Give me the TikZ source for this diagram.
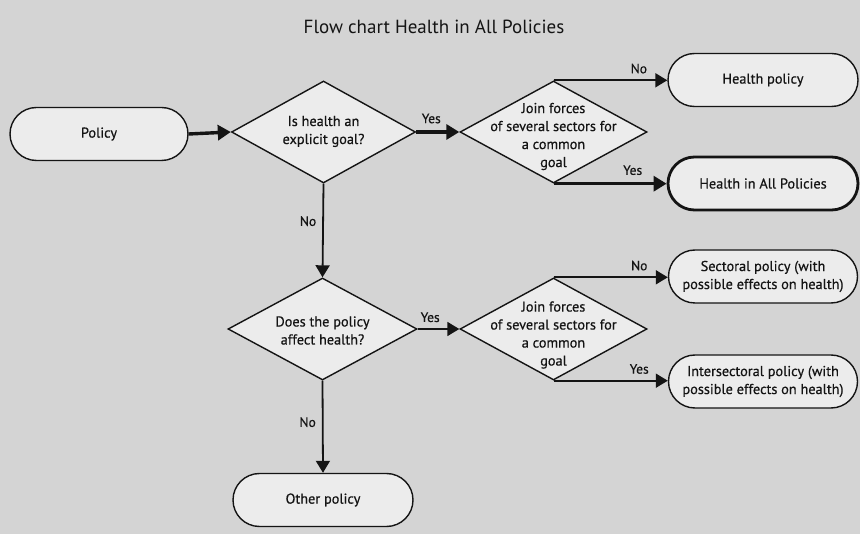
\documentclass[tikz,border=0pt]{standalone}
\usepackage{fontspec}
\setmainfont{PT Sans}
\newfontfamily\hfont[FakeBold=0.5]{PT Sans}
\usetikzlibrary{arrows.meta,shapes.geometric}
\definecolor{bg}{HTML}{D4D4D4}
\definecolor{boxfill}{HTML}{ECECEC}
\definecolor{ink}{HTML}{141414}
\tikzset{
  term/.style={draw=ink, line width=1.4pt, fill=boxfill, rounded corners=26.5pt,
    minimum width=#1, minimum height=53pt, inner sep=0pt, align=center,
    font=\hfont\fontsize{14.3}{18}\selectfont, text=ink},
  term/.default=180pt,
  dia/.style={draw=ink, line width=1.4pt, fill=boxfill, diamond, aspect=1.8,
    minimum width=184pt, minimum height=102pt, inner sep=0pt},
  diatext/.style={align=center, font=\hfont\fontsize{14.3}{18}\selectfont, text=ink, inner sep=0pt},
  lbl/.style={font=\hfont\fontsize{13.5}{16}\selectfont, text=ink, inner sep=0pt},
  arr/.style={draw=ink, line width=1.8pt, -{Triangle[length=12pt,width=14pt]}},
  tarr/.style={draw=ink, line width=3.4pt, -{Triangle[length=13pt,width=15pt]}},
}
\begin{document}
\begin{tikzpicture}[x=1pt,y=-1pt]
\fill[bg] (0,0) rectangle (860,534);
\useasboundingbox (0,0) rectangle (860,534);
\node[font=\fontsize{19}{22}\selectfont, text=ink] (title) at (434,27) {Flow chart Health in All Policies};
% nodes
\node[term=178pt] (policy) at (99,134) {Policy};
\node[dia] (d1) at (323.5,132) {};
\node[diatext] (t1) at (323.5,131.5) {Is health an\\explicit goal?};
\node[dia, minimum width=187pt] (d2) at (553.5,132) {};
\node[diatext] (t2) at (553.5,136.5) {Join forces\\of several sectors for\\a common\\goal};
\node[term=190pt] (hp) at (763,80) {Health policy};
\node[term=190pt, line width=2.8pt] (hiap) at (763,183.5) {Health in All Policies};
\node[dia, minimum width=189pt] (d3) at (322.5,329) {};
\node[diatext] (t3) at (322.5,330.5) {Does the policy\\affect health?};
\node[dia, minimum width=187pt] (d4) at (553.5,329) {};
\node[diatext] (t4) at (553.5,335) {Join forces\\of several sectors for\\a common\\goal};
\node[term=189pt] (sect) at (763,276.5) {Sectoral policy (with\\possible effects on health)};
\node[term=189pt] (inter) at (763,381.5) {Intersectoral policy (with\\possible effects on health)};
\node[term=180pt] (other) at (323,500) {Other policy};
% connectors
\draw[tarr] (policy.east) -- (d1.west);
\draw[tarr] (d1.east) -- (d2.west) node[lbl, pos=0.35, above=7pt] (y1) {Yes};
\draw[arr] (d2.north) -- (d2.north -| hp.west) node[lbl, pos=0.75, above=6pt] (n1) {No};
\draw[tarr] (d2.south) -- (d2.south -| hiap.west) node[lbl, pos=0.7, above=7pt] (y2) {Yes};
\draw[arr] (d1.south) -- (d3.north) node[lbl, pos=0.4, left=6pt] (n2) {No};
\draw[arr] (d3.east) -- (d4.west) node[lbl, pos=0.3, above=6pt] (y3) {Yes};
\draw[arr] (d4.north) -- (d4.north -| sect.west) node[lbl, pos=0.75, above=6pt] (n3) {No};
\draw[arr] (d4.south) -- (d4.south -| inter.west) node[lbl, pos=0.75, above=6pt] (y4) {Yes};
\draw[arr] (d3.south) -- (other.north) node[lbl, pos=0.45, left=6pt] (n4) {No};
\end{tikzpicture}
\end{document}
